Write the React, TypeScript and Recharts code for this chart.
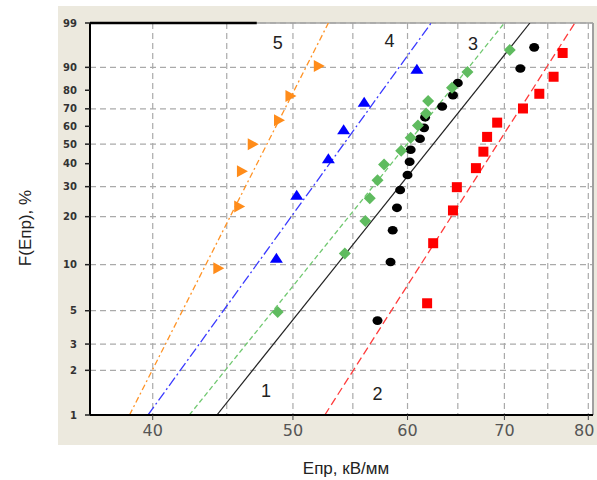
import {
  ComposedChart,
  Line,
  Scatter,
  XAxis,
  YAxis,
  CartesianGrid,
  ReferenceLine,
  ReferenceDot,
} from "recharts";

// Weibull probability paper: y = ln(-ln(1 - F))
const wb = (p: number) => Math.log(-Math.log(1 - p / 100));

// 1 - black circles
const e1 = [57.2, 58.4, 58.6, 59.0, 59.3, 60.0, 60.2, 60.3, 61.2, 61.6, 61.7, 63.4, 64.5, 65.0, 71.8, 73.4];
const f1 = [4.3, 10.4, 16.5, 22.6, 28.7, 34.8, 40.9, 47.0, 53.0, 59.1, 65.2, 71.3, 77.4, 83.5, 89.6, 95.7];
// 2 - red squares
const e2 = [61.9, 62.5, 64.5, 64.9, 66.9, 67.7, 68.1, 69.2, 72.1, 74.0, 75.7, 76.8];
const f2 = [5.6, 13.7, 21.8, 29.8, 37.9, 46.0, 54.0, 62.1, 70.2, 78.2, 86.3, 94.4];
// 3 - green diamonds
const e3 = [48.8, 54.3, 56.1, 56.5, 57.2, 57.8, 59.4, 60.3, 61.0, 61.8, 62.0, 64.4, 66.0, 70.6];
const f3 = [4.9, 11.8, 18.8, 25.7, 32.6, 39.6, 46.5, 53.5, 60.4, 67.4, 74.3, 81.3, 88.2, 95.1];
// 4 - blue triangles
const e4 = [48.7, 50.3, 52.9, 54.2, 56.0, 60.9];
const f4 = [10.9, 26.6, 42.2, 57.8, 73.4, 89.1];
// 5 - orange triangles
const e5 = [44.4, 45.9, 46.1, 46.9, 48.9, 49.8, 52.1];
const f5 = [9.5, 23.0, 36.5, 50.0, 63.5, 77.0, 90.5];

// fitted lines, E at F = 1% and 99%
const fitF = [1, 99];
const fit1 = [44.3, 72.9];
const fit2 = [52.6, 78.3];
const fit3 = [42.4, 70.0];
const fit4 = [39.7, 62.3];
const fit5 = [38.55, 52.9];

// curve numbers
const tagNames = ["1", "2", "3", "4", "5"];
const tagE = [47.9, 57.2, 66.6, 58.3, 48.8];
const tagF = [1.45, 1.39, 96.5, 97.0, 96.7];

const xTicks = [40, 50, 60, 70, 80];
const xGrid = [40, 45, 50, 55, 60, 65, 70, 75, 80];
const yTickLabels = [1, 2, 3, 5, 10, 20, 30, 40, 50, 60, 70, 80, 90, 99];
const xDomain = [36.2, 80.6];

const yTicks = yTickLabels.map(wb);
const yDomain = [wb(1), wb(99)];

const pts = (e: number[], f: number[]) => e.map((v, i) => ({ e: v, y: wb(f[i]) }));

const Circle = (p: any) => <ellipse cx={p.cx} cy={p.cy} rx={5} ry={4.3} fill="#000" />;
const Square = (p: any) => <rect x={p.cx - 5} y={p.cy - 5} width={10} height={10} fill="#ff0000" />;
const Diamond = (p: any) => (
  <polygon
    points={`${p.cx},${p.cy - 6} ${p.cx + 6},${p.cy} ${p.cx},${p.cy + 6} ${p.cx - 6},${p.cy}`}
    fill="#5fbb5f"
  />
);
const TriUp = (p: any) => (
  <polygon points={`${p.cx},${p.cy - 6} ${p.cx + 6.5},${p.cy + 4} ${p.cx - 6.5},${p.cy + 4}`} fill="#0000ff" />
);
const TriRight = (p: any) => (
  <polygon points={`${p.cx - 5},${p.cy - 6} ${p.cx + 6},${p.cy} ${p.cx - 5},${p.cy + 6}`} fill="#ff8c1a" />
);

const tickFont = '"DejaVu Sans", Verdana, sans-serif';
const titleFont = '"Liberation Sans", Arial, sans-serif';

// x tick labels; the last one is nudged left so it stays inside the page
const XTick = (p: any) => {
  const last = p.payload.value === xTicks[xTicks.length - 1];
  return (
    <text
      x={p.x + (last ? -4 : 0)}
      y={p.y}
      dy="0.71em"
      textAnchor="middle"
      fill="#555"
      fontSize={16}
      fontFamily={tickFont}
    >
      {p.payload.value}
    </text>
  );
};

export default function App() {
  const top = wb(99);
  return (
    <div style={{ position: "absolute", left: 0, top: 0, width: 597, height: 480 }}>
      <div
        style={{ position: "absolute", left: 58, top: 6, width: 539, height: 439, background: "#ece9de" }}
      />
      <div style={{ position: "absolute", left: 0, top: 0 }}>
        <ComposedChart width={597} height={480} margin={{ top: 23, right: 4, bottom: 35, left: 58 }}>
          <CartesianGrid
            fill="#fff"
            stroke="#aaa"
            strokeWidth={1.2}
            strokeDasharray="6 4"
            verticalValues={xGrid}
            horizontalValues={yTicks}
          />
          <XAxis
            dataKey="e"
            type="number"
            scale="log"
            domain={xDomain}
            allowDataOverflow
            ticks={xTicks}
            height={30}
            axisLine={{ stroke: "#000", strokeWidth: 2 }}
            tickLine={{ stroke: "#444" }}
            tickSize={5}
            tickMargin={5}
            tick={XTick}
            label={() => (
              <text x={346} y={468} textAnchor="middle" dominantBaseline="central" fontSize={17} fontFamily={titleFont} fill="#222">
                Eпр, кВ/мм
              </text>
            )}
          />
          <YAxis
            dataKey="y"
            type="number"
            domain={yDomain}
            allowDataOverflow
            ticks={yTicks}
            tickFormatter={(v: number) => String(yTickLabels[yTicks.findIndex((t) => Math.abs(t - v) < 1e-6)])}
            width={32}
            axisLine={{ stroke: "#000", strokeWidth: 2 }}
            tickLine={{ stroke: "#222", strokeWidth: 1.5 }}
            tickSize={5}
            tickMargin={8}
            tick={{ fill: "#333", fontSize: 10, fontWeight: "bold", fontFamily: tickFont }}
            label={() => (
              <text
                x={25}
                y={228}
                transform="rotate(-90 25 228)"
                textAnchor="middle"
                dominantBaseline="central"
                fontSize={17}
                fontFamily={titleFont}
                fill="#222"
              >
                F(Eпр), %
              </text>
            )}
          />
          <ReferenceLine y={top} stroke="#a0a0a0" strokeWidth={1.5} ifOverflow="visible" />
          <ReferenceLine x={xDomain[1]} stroke="#a0a0a0" strokeWidth={2} ifOverflow="visible" />
          <ReferenceLine
            segment={[
              { x: xDomain[0], y: top },
              { x: 47.2, y: top },
            ]}
            stroke="#000"
            strokeWidth={2.5}
            ifOverflow="visible"
          />

          <Line data={pts(fit1, fitF)} dataKey="y" stroke="#222" strokeWidth={1.2} dot={false} isAnimationActive={false} />
          <Line data={pts(fit2, fitF)} dataKey="y" stroke="#ff3c3c" strokeWidth={1.3} strokeDasharray="8 4" dot={false} isAnimationActive={false} />
          <Line data={pts(fit3, fitF)} dataKey="y" stroke="#70c870" strokeWidth={1.3} strokeDasharray="5 3" dot={false} isAnimationActive={false} />
          <Line data={pts(fit4, fitF)} dataKey="y" stroke="#3a3aff" strokeWidth={1.3} strokeDasharray="10 3 2 3" dot={false} isAnimationActive={false} />
          <Line data={pts(fit5, fitF)} dataKey="y" stroke="#ff9326" strokeWidth={1.3} strokeDasharray="6 3 2 3" dot={false} isAnimationActive={false} />

          <Scatter data={pts(e1, f1)} dataKey="y" shape={Circle} isAnimationActive={false} />
          <Scatter data={pts(e2, f2)} dataKey="y" shape={Square} isAnimationActive={false} />
          <Scatter data={pts(e3, f3)} dataKey="y" shape={Diamond} isAnimationActive={false} />
          <Scatter data={pts(e4, f4)} dataKey="y" shape={TriUp} isAnimationActive={false} />
          <Scatter data={pts(e5, f5)} dataKey="y" shape={TriRight} isAnimationActive={false} />

          {tagNames.map((t, i) => (
            <ReferenceDot
              key={t}
              x={tagE[i]}
              y={wb(tagF[i])}
              r={0}
              fill="none"
              stroke="none"
              ifOverflow="visible"
              label={{ value: t, position: "center", fontSize: 18, fill: "#222", fontFamily: titleFont }}
            />
          ))}
        </ComposedChart>
      </div>
    </div>
  );
}
